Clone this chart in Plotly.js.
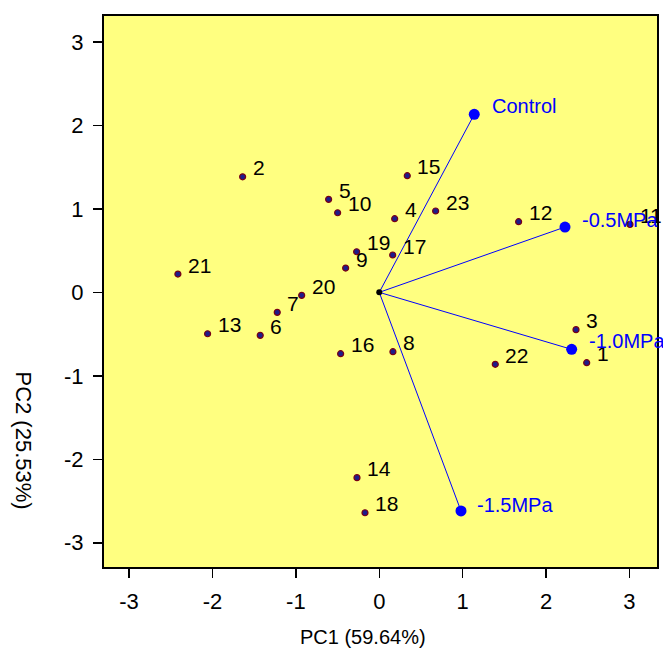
<!DOCTYPE html>
<html>
<head>
<meta charset="utf-8">
<script src="https://cdn.plot.ly/plotly-3.0.1.min.js"></script>
<style>
html,body{margin:0;padding:0;background:#fff;}
#chart{width:663px;height:650px;}
</style>
</head>
<body>
<div id="chart"></div>
<script>
// Genotype scores (PC1, PC2)
const genotypes = ['1','2','3','4','5','6','7','8','9','10','11','12','13','14','15','16','17','18','19','20','21','22','23'];
const pc1 = [2.487, -1.638, 2.359, 0.185, -0.607, -1.427, -1.223, 0.164, -0.403, -0.499, 3.006, 1.671, -2.058, -0.267, 0.336, -0.463, 0.161, -0.171, -0.271, -0.930, -2.414, 1.391, 0.676];
const pc2 = [-0.843, 1.384, -0.447, 0.882, 1.114, -0.515, -0.240, -0.711, 0.291, 0.953, 0.814, 0.846, -0.496, -2.220, 1.397, -0.735, 0.447, -2.640, 0.486, -0.036, 0.219, -0.862, 0.974];

// Treatment vectors
const treatments = ['Control', '-0.5MPa', '-1.0MPa', '-1.5MPa'];
const vecX = [1.139, 2.227, 2.307, 0.980];
const vecY = [2.132, 0.782, -0.683, -2.619];

// Axis ticks
const tickValues = [-3, -2, -1, 0, 1, 2, 3];
const tickLabels = ['-3', '-2', '-1', '0', '1', '2', '3'];

const FONT = 'Liberation Sans, Arial, sans-serif';

// vector lines from origin
const lx = [], ly = [];
vecX.forEach((v, i) => { lx.push(0, v, null); ly.push(0, vecY[i], null); });

const traces = [
  {x: lx, y: ly, mode: 'lines', type: 'scatter', line: {color: '#0000ff', width: 1}, hoverinfo: 'skip', showlegend: false},
  {x: [0], y: [0], mode: 'markers', type: 'scatter', marker: {color: '#000000', size: 6}, showlegend: false},
  {x: pc1, y: pc2, mode: 'markers', type: 'scatter', text: genotypes,
   marker: {color: '#1c1c8c', size: 6, line: {color: '#7a0014', width: 1.2}}, showlegend: false},
  {x: vecX, y: vecY, mode: 'markers', type: 'scatter', text: treatments,
   marker: {color: '#0000ff', size: 11}, showlegend: false}
];

const annotations = [];
genotypes.forEach((g, i) => {
  annotations.push({x: pc1[i], y: pc2[i], xref: 'x', yref: 'y', text: g, showarrow: false,
    xanchor: 'left', yanchor: 'middle', xshift: 8, yshift: 9,
    font: {family: FONT, size: 21, color: '#000000'}});
});
const vshift = [[16, 8], [15, 7], [15, 8], [14, 6]];
treatments.forEach((t, i) => {
  annotations.push({x: vecX[i], y: vecY[i], xref: 'x', yref: 'y', text: t, showarrow: false,
    xanchor: 'left', yanchor: 'middle', xshift: vshift[i][0], yshift: vshift[i][1],
    font: {family: FONT, size: 20, color: '#0000ff'}});
});
annotations.push({x: 0.468, y: -0.127, xref: 'paper', yref: 'paper', text: 'PC1 (59.64%)', showarrow: false,
  xanchor: 'center', yanchor: 'middle', font: {family: FONT, size: 20, color: '#000'}});
annotations.push({x: -0.145, y: 0.23, xref: 'paper', yref: 'paper', text: 'PC2 (25.53%)', showarrow: false,
  textangle: 90, xanchor: 'center', yanchor: 'middle', font: {family: FONT, size: 22, color: '#000'}});

const axisCommon = {
  tickmode: 'array', tickvals: tickValues, ticktext: tickLabels,
  ticks: 'outside', ticklen: 9, tickwidth: 1.5, tickcolor: '#000',
  showline: true, mirror: true, linecolor: '#000', linewidth: 2,
  showgrid: false, zeroline: false, ticklabelstandoff: 5,
  tickfont: {family: FONT, size: 22, color: '#000'}
};

const layout = {
  width: 663, height: 650,
  margin: {l: 104, r: 6, t: 16, b: 83},
  paper_bgcolor: '#ffffff', plot_bgcolor: '#ffff80',
  xaxis: Object.assign({}, axisCommon, {range: [-3.3, 3.33]}),
  yaxis: Object.assign({}, axisCommon, {range: [-3.29, 3.31]}),
  annotations: annotations,
  showlegend: false
};

Plotly.newPlot('chart', traces, layout, {displayModeBar: false, staticPlot: true});
</script>
</body>
</html>
